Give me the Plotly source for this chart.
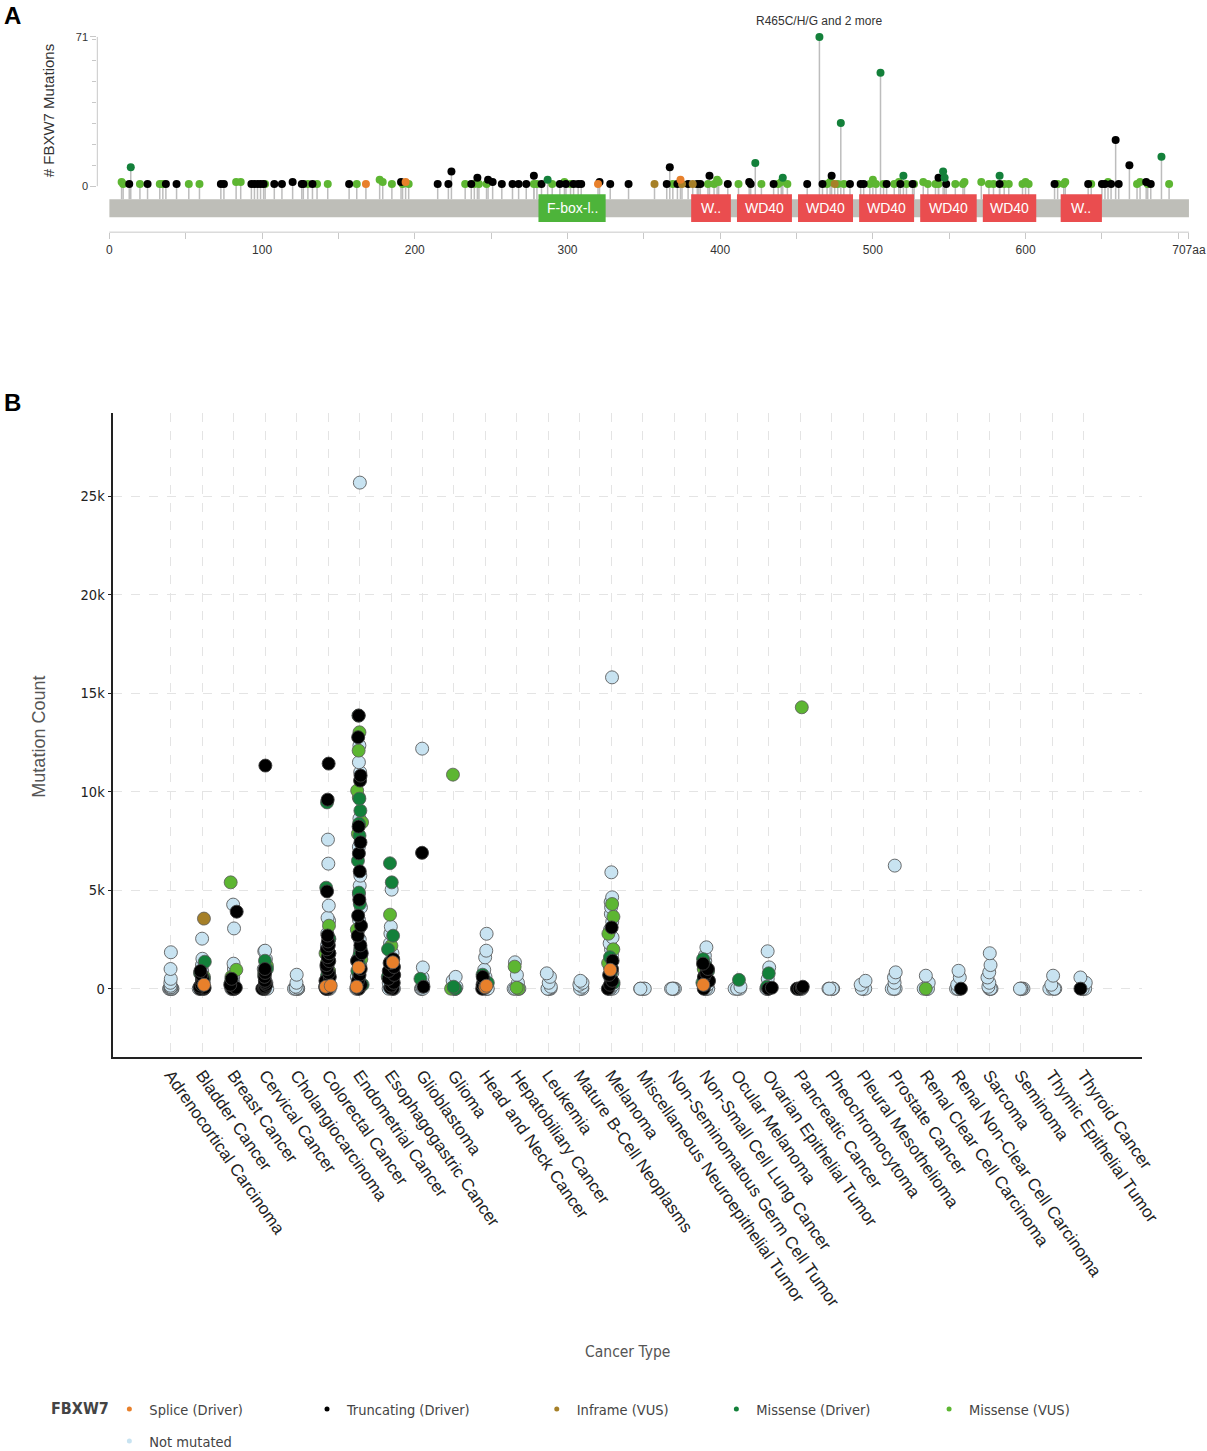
import plotly.graph_objects as go

W, H = 1207, 1451          # reference pixel frame; placements are fractions of it
FIG_W, FIG_H = 1231, 1457  # rendered size (the capture is squeezed slightly to the frame)

# ---------------- Panel A data (lollipop) ----------------
protein_length = 707
domain_names = ["F-box-l..", "W..", "WD40", "WD40", "WD40", "WD40", "WD40", "W.."]
domain_start = [281, 381, 411, 451, 491, 531, 572, 623]
domain_end = [325, 407, 447, 487, 527, 568, 607, 650]
domain_kind = ["fbox", "wd", "wd", "wd", "wd", "wd", "wd", "wd"]

mis_vus_pos = [8, 9, 20, 33, 35, 52, 59, 83, 86, 102, 130, 136, 143, 162, 177, 179, 185, 192, 196,
               233, 239, 242, 247, 278, 280, 290, 298, 302, 369, 386, 392, 396, 398, 399, 412, 427,
               438, 440, 444, 470, 472, 477, 481, 498, 500, 502, 507, 514, 517, 522, 527, 533, 536,
               541, 543, 554, 559, 560, 571, 576, 579, 586, 589, 598, 600, 602, 621, 625, 626, 643,
               654, 673, 675, 680, 694]
mis_vus_cnt = [2, 1, 1, 1, 1, 1, 1, 2, 2, 1, 1, 1, 1, 1, 3, 2, 1, 1, 1,
               1, 1, 1, 1, 1, 1, 1, 2, 1, 1, 1, 1, 1, 3, 2, 1, 1,
               1, 2, 1, 1, 2, 1, 1, 1, 3, 1, 1, 1, 2, 1, 1, 2, 1,
               1, 1, 1, 1, 2, 2, 1, 1, 1, 1, 1, 2, 1, 1, 1, 2, 1,
               2, 1, 2, 1, 1]
trunc_pos = [13, 25, 37, 44, 73, 75, 93, 95, 97, 99, 101, 108, 113, 120, 126, 127, 133, 157, 191,
             215, 222, 224, 237, 241, 248, 251, 257, 264, 268, 273, 278, 283, 295, 299, 304, 307,
             309, 321, 328, 340, 365, 367, 372, 379, 385, 387, 393, 405, 419, 420, 435, 457, 467,
             473, 485, 492, 494, 509, 518, 526, 543, 548, 583, 619, 641, 650, 652, 656, 659, 661,
             668, 679, 682]
trunc_cnt = [1, 1, 1, 1, 1, 1, 1, 1, 1, 1, 1, 1, 1, 2, 1, 1, 1, 1, 2,
             1, 1, 7, 1, 4, 3, 2, 1, 1, 1, 1, 5, 1, 1, 1, 1, 1,
             1, 2, 1, 1, 1, 9, 1, 1, 1, 1, 5, 1, 2, 1, 1, 1, 1,
             5, 1, 1, 1, 1, 1, 1, 4, 1, 1, 1, 1, 1, 1, 1, 22, 1,
             10, 2, 1]
mis_drv_pos = [14, 287, 423, 441, 465, 479, 505, 520, 546, 547, 583, 689]
mis_drv_cnt = [9, 3, 11, 4, 71, 30, 54, 5, 7, 4, 5, 14]
splice_pos = [168, 194, 320, 374]
splice_cnt = [1, 2, 1, 3]
inframe_pos = [357, 375, 382, 475]
inframe_cnt = [1, 1, 1, 1]
hotspot_label = "R465C/H/G and 2 more"
hotspot_pos = 465
hotspot_cnt = 71

# ---------------- Panel B data (mutation count by cancer type) ----------------
cancer_types = [
    "Adrenocortical Carcinoma", "Bladder Cancer", "Breast Cancer", "Cervical Cancer",
    "Cholangiocarcinoma", "Colorectal Cancer", "Endometrial Cancer", "Esophagogastric Cancer",
    "Glioblastoma", "Glioma", "Head and Neck Cancer", "Hepatobiliary Cancer", "Leukemia",
    "Mature B-Cell Neoplasms", "Melanoma", "Miscellaneous Neuroepithelial Tumor",
    "Non-Seminomatous Germ Cell Tumor", "Non-Small Cell Lung Cancer", "Ocular Melanoma",
    "Ovarian Epithelial Tumor", "Pancreatic Cancer", "Pheochromocytoma", "Pleural Mesothelioma",
    "Prostate Cancer", "Renal Clear Cell Carcinoma", "Renal Non-Clear Cell Carcinoma", "Sarcoma",
    "Seminoma", "Thymic Epithelial Tumor", "Thyroid Cancer",
]

not_mutated = [
    [1850, 1000, 500, 300, 150, 80, 50, 0, 0, 0, 0, 0, 0],
    [2540, 1520, 1200, 900, 700, 500, 300, 200, 100, 50, 0, 0, 0, 0, 0],
    [4270, 3060, 1270, 1000, 600, 300, 100, 0, 0, 0, 0, 0],
    [1930, 1900, 1500, 1000, 600, 300, 100, 0, 0, 0, 0],
    [710, 300, 100, 50, 0, 0, 0, 0, 0],
    [7570, 6350, 4220, 3600, 3450, 2800, 2500, 2200, 1800, 1500, 1200, 900, 600, 300, 100, 0, 0, 0,
     0],
    [25700, 12350, 11500, 10990, 8640, 7200, 5740, 5230, 4800, 4130, 3500, 3000, 2500, 2000, 1845,
     1500, 1200, 900, 600, 300, 100, 0, 0, 0],
    [5030, 3150, 2800, 2300, 1800, 1400, 1000, 600, 300, 0, 0, 0, 0],
    [12190, 1080, 570, 300, 100, 0, 0, 0, 0],
    [600, 400, 100, 0, 0, 0, 0],
    [2790, 1930, 1590, 960, 600, 300, 0, 0, 0, 0],
    [1340, 700, 300, 0, 0, 0, 0],
    [780, 600, 300, 100, 0, 0, 0, 0],
    [400, 300, 200, 100, 0, 0, 0],
    [15810, 5910, 4640, 4400, 4130, 3800, 3400, 3000, 2600, 2300, 2000, 1700, 1400, 1100, 800, 500,
     200, 0, 0, 0, 0],
    [0, 0, 0, 0, 0],
    [0, 0, 0, 0, 0],
    [2100, 1680, 1400, 1100, 800, 500, 200, 0, 0, 0, 0],
    [100, 0, 0, 0, 0],
    [1900, 1080, 500, 0, 0, 0, 0, 0],
    [0, 0, 0, 0],
    [0, 0, 0, 0, 0],
    [400, 200, 0, 0, 0, 0],
    [6250, 830, 570, 300, 0, 0, 0, 0],
    [660, 300, 0, 0, 0, 0],
    [910, 570, 200, 0, 0, 0, 0],
    [1800, 1200, 830, 570, 300, 100, 0, 0, 0, 0],
    [0, 0, 0, 0, 0],
    [660, 200, 0, 0, 0, 0],
    [570, 300, 0, 0, 0, 0],
]
truncating = [
    [], [900, 700, 500, 400, 300, 200, 100, 50, 0, 0], [3910, 500, 200, 50, 0, 0],
    [11330, 1000, 800, 600, 400, 300, 200, 100, 50, 0, 0], [],
    [11430, 9600, 4940, 2700, 2400, 2200, 2000, 1800, 1600, 1400, 1200, 1000, 800, 600, 400, 200,
     100, 0, 0],
    [13870, 12770, 10820, 10570, 8230, 7430, 6870, 5960, 4520, 3710, 3200, 2690, 2200, 1800, 1400,
     1000, 700, 400, 200, 50, 0],
    [1500, 1300, 1100, 900, 700, 500, 300, 150, 50, 0], [6900, 100], [], [600, 400, 200, 50, 0],
    [], [], [], [3110, 1420, 1000, 700, 400, 200, 0], [], [], [1270, 1000, 800, 600, 400, 200, 0],
    [], [50, 0], [100, 50, 0, 0], [], [], [], [], [0], [], [], [], [0],
]
missense_driver = [
    [], [1370, 800, 500], [300], [1420, 1000, 700], [], [9460, 5130, 2540, 2000, 1500, 1100, 700, 300],
    [13870, 9650, 9040, 8380, 7770, 6500, 4880, 4300, 2030, 1700, 1300, 900, 500, 200],
    [6370, 5400, 2690, 2000, 1200, 600], [500], [100, 0], [710, 300], [], [], [], [1600, 800, 300],
    [], [], [1500, 1200, 900, 600, 300], [450], [780, 100], [], [], [], [], [], [], [], [], [], [],
]
missense_vus = [
    [], [600], [5400, 960, 600], [1170, 800], [], [3200, 1800, 1300, 900, 500],
    [13020, 12090, 10060, 9720, 8450, 7870, 3000, 1500, 800], [3760, 2180, 900], [],
    [10870, 50, 0], [], [1120, 50, 0], [], [], [4300, 3650, 2790, 2000, 1300], [], [], [1000, 500],
    [], [], [14290], [], [], [], [0], [], [], [], [], [],
]
inframe = [[], [3560]] + [[] for _ in range(28)]
splice = [
    [], [200], [], [], [], [150, 100], [1080, 100], [1340], [], [], [150, 80], [], [], [], [960],
    [], [], [200], [], [], [], [], [], [], [], [], [], [], [], [],
]

y_tick_vals = [0, 5000, 10000, 15000, 20000, 25000]
y_tick_text = ["0", "5k", "10k", "15k", "20k", "25k"]

# ---------------- styles ----------------
C_SPLICE = "#E8802B"
C_TRUNC = "#000000"
C_INFRAME = "#A68028"
C_MDRV = "#13803A"
C_MVUS = "#5DB632"
C_NOTMUT = "#C8E3F1"
COND = "DejaVu Sans Condensed, Liberation Sans Narrow, Arial Narrow, sans-serif"
SANS = "Liberation Sans, Arial, Helvetica, sans-serif"


def px_x(p):
    return p / W


def px_y(p):
    return 1 - p / H


fig = go.Figure()

# ---- Panel A: sticks ----
stick_x, stick_y = [], []
for plist, clist in [(mis_vus_pos, mis_vus_cnt), (trunc_pos, trunc_cnt), (mis_drv_pos, mis_drv_cnt),
                     (splice_pos, splice_cnt), (inframe_pos, inframe_cnt)]:
    for p, c in zip(plist, clist):
        stick_x += [p, p, None]
        stick_y += [-6.2, c, None]
fig.add_trace(go.Scatter(x=stick_x, y=stick_y, mode="lines", xaxis="x2", yaxis="y2",
                         line=dict(color="#BDBDBD", width=1.5), hoverinfo="skip", showlegend=False))

for plist, clist, col, name in [
    (mis_vus_pos, mis_vus_cnt, C_MVUS, "Missense (VUS)"),
    (trunc_pos, trunc_cnt, C_TRUNC, "Truncating (Driver)"),
    (inframe_pos, inframe_cnt, C_INFRAME, "Inframe (VUS)"),
    (splice_pos, splice_cnt, C_SPLICE, "Splice (Driver)"),
    (mis_drv_pos, mis_drv_cnt, C_MDRV, "Missense (Driver)"),
]:
    fig.add_trace(go.Scatter(x=plist, y=clist, mode="markers", xaxis="x2", yaxis="y2",
                             marker=dict(color=col, size=8, line=dict(width=0)),
                             name=name, showlegend=False, cliponaxis=False))


# ---- Panel B: jittered points ----
def flat(lists):
    xs, ys = [], []
    for cat, vals in zip(cancer_types, lists):
        xs += [cat] * len(vals)
        ys += vals
    return xs, ys


for lists, col, name, edge in [
    (not_mutated, C_NOTMUT, "Not mutated", "rgba(85,85,85,0.85)"),
    (missense_vus, C_MVUS, "Missense (VUS)", "rgba(90,90,90,0.8)"),
    (missense_driver, C_MDRV, "Missense (Driver)", "rgba(90,90,90,0.8)"),
    (inframe, C_INFRAME, "Inframe (VUS)", "rgba(90,90,90,0.8)"),
    (truncating, C_TRUNC, "Truncating (Driver)", "rgba(60,60,60,0.9)"),
    (splice, C_SPLICE, "Splice (Driver)", "rgba(90,90,90,0.8)"),
]:
    xs, ys = flat(lists)
    fig.add_trace(go.Box(x=xs, y=ys, name=name, boxpoints="all", jitter=0.45, pointpos=0,
                         fillcolor="rgba(0,0,0,0)", line=dict(color="rgba(0,0,0,0)", width=0),
                         marker=dict(color=col, size=13, opacity=1, line=dict(color=edge, width=1)),
                         showlegend=False, xaxis="x", yaxis="y"))

# ---- legend-only traces, one small legend per entry ----
legend_items = [(C_SPLICE, "Splice (Driver)"), (C_TRUNC, "Truncating (Driver)"),
                (C_INFRAME, "Inframe (VUS)"), (C_MDRV, "Missense (Driver)"),
                (C_MVUS, "Missense (VUS)"), (C_NOTMUT, "Not mutated")]
legend_dot_px = [(130, 1408), (327, 1408), (556, 1408), (735, 1408), (947, 1408), (130, 1440)]
legend_ids = ["legend", "legend2", "legend3", "legend4", "legend5", "legend6"]
for (col, name), lid in zip(legend_items, legend_ids):
    fig.add_trace(go.Scatter(x=[None], y=[None], mode="markers", name=name, legend=lid,
                             marker=dict(color=col, size=5), xaxis="x", yaxis="y"))

# ---- shapes ----
shapes = []
shapes.append(dict(type="line", xref="paper", yref="y2", x0=px_x(97), x1=px_x(97), y0=0, y1=71,
                   line=dict(color="#C8C8C8", width=1)))
shapes.append(dict(type="line", xref="x2", yref="paper", x0=0, x1=protein_length,
                   y0=px_y(232), y1=px_y(232), line=dict(color="#C8C8C8", width=1)))
shapes.append(dict(type="rect", xref="x2", yref="y2", x0=0, x1=protein_length, y0=-14.8, y1=-6.2,
                   fillcolor="#BEBEB8", line=dict(width=0), layer="below"))
annotations = []
for nm, s, e, k in zip(domain_names, domain_start, domain_end, domain_kind):
    shapes.append(dict(type="rect", xref="x2", yref="y2", x0=s, x1=e, y0=-17.1, y1=-3.8,
                       fillcolor="#4DB43A" if k == "fbox" else "#EA4D4F", line=dict(width=0)))
    annotations.append(dict(x=(s + e) / 2, y=-10.45, xref="x2", yref="y2", text=nm, showarrow=False,
                            xanchor="center", yanchor="middle",
                            font=dict(family=SANS, size=14, color="white")))


def paper_text(x, y, text, size, color, family=SANS, angle=0):
    return dict(x=px_x(x), y=px_y(y), xref="paper", yref="paper", text=text, textangle=angle,
                showarrow=False, xanchor="center", yanchor="middle",
                font=dict(family=family, size=size, color=color))


annotations += [
    dict(x=hotspot_pos, y=hotspot_cnt, xref="x2", yref="y2", text=hotspot_label, showarrow=False,
         xanchor="center", yanchor="bottom", yshift=7, font=dict(family=SANS, size=12, color="#333")),
    paper_text(48, 111, "# FBXW7 Mutations", 15, "#333", angle=-90),
    paper_text(12, 15, "<b>A</b>", 24, "black"),
    paper_text(12, 402, "<b>B</b>", 24, "black"),
    paper_text(38, 736, "Mutation Count", 18, "#555", angle=-90),
    paper_text(625, 1351, "Cancer Type", 15.5, "#555", family=COND),
    paper_text(80, 1408, "<b>FBXW7</b>", 16, "#444", family=COND),
]

a_ticks = list(range(0, 701, 50)) + [707]
a_text = [str(v) if v % 100 == 0 else "" for v in range(0, 701, 50)] + ["707aa"]
a_text[-2] = ""

layout = dict(
    width=FIG_W, height=FIG_H, margin=dict(l=0, r=0, t=0, b=0),
    paper_bgcolor="white", plot_bgcolor="white", boxmode="overlay",
    font=dict(family=SANS, color="#333"),
    shapes=shapes, annotations=annotations,
    xaxis=dict(domain=[px_x(113), px_x(1138)], anchor="y", type="category",
               categoryorder="array", categoryarray=cancer_types, range=[-1.82, 30.85],
               showline=True, linecolor="#222", linewidth=1.5, ticks="", tickangle=55,
               tickfont=dict(family=SANS, size=17, color="#222"),
               showgrid=True, gridcolor="#E4E4E4", griddash="dash", gridwidth=1, zeroline=False),
    yaxis=dict(domain=[px_y(1056), px_y(413)], anchor="x", range=[-3455, 29220],
               showline=True, linecolor="#222", linewidth=1.5, ticks="outside", ticklen=4,
               tickcolor="#222", tickvals=y_tick_vals, ticktext=y_tick_text,
               tickfont=dict(family=COND, size=14.5, color="#222"),
               showgrid=True, gridcolor="#E4E4E4", griddash="dash", zeroline=False),
    xaxis2=dict(domain=[px_x(97), px_x(1187)], anchor="y2", range=[-7.9, 708.3],
                showline=False, showgrid=False, zeroline=False, tickmode="array",
                tickvals=a_ticks, ticktext=a_text, ticks="outside", ticklen=6,
                tickcolor="#C8C8C8", tickfont=dict(family=SANS, size=12, color="#333")),
    yaxis2=dict(domain=[px_y(232), px_y(30)], anchor="x2", range=[-21.9, 74.3],
                showline=False, showgrid=False, zeroline=False, tickmode="array",
                tickvals=[0, 71], ticktext=["0", "71"], ticks="outside", ticklen=6,
                tickcolor="#C8C8C8", tickfont=dict(family=SANS, size=11, color="#333"),
                minor=dict(tickvals=[10, 20, 30, 40, 50, 60, 70], ticks="outside", ticklen=4,
                           tickcolor="#C8C8C8")),
)
for lid, (dx, dy) in zip(legend_ids, legend_dot_px):
    layout[lid] = dict(orientation="h", x=px_x(dx - 21), xanchor="left", y=px_y(dy),
                       yanchor="middle", font=dict(family=COND, size=14.5, color="#444"),
                       itemsizing="trace", bgcolor="rgba(0,0,0,0)", borderwidth=0)
fig.update_layout(**layout)

fig.write_html(
    "out.html",
    config={"displayModeBar": False},
    post_script=("document.documentElement.style.overflow='hidden';"
                 "document.body.style.margin='0px';document.body.style.overflow='hidden';"),
)
